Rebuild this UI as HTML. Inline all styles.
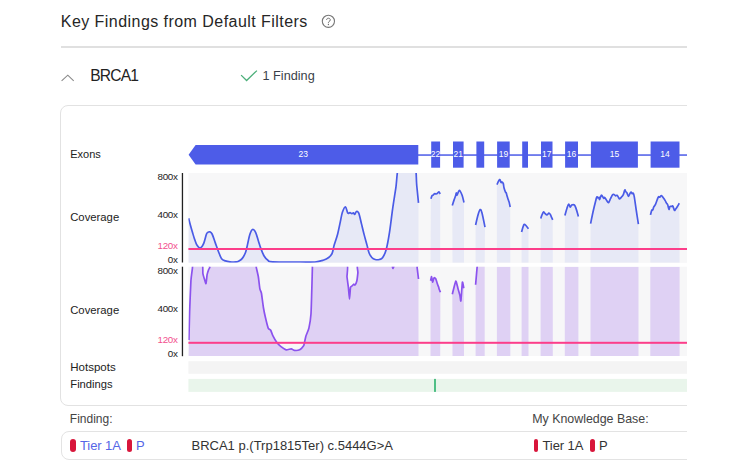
<!DOCTYPE html>
<html><head><meta charset="utf-8"><style>
html,body{margin:0;padding:0;background:#fff;}
body{width:736px;height:475px;overflow:hidden;position:relative;font-family:"Liberation Sans",sans-serif;color:#222;}
.a{position:absolute;white-space:nowrap;line-height:1;}
.ax{letter-spacing:-0.3px;font-size:9.8px !important}
.clip{position:absolute;left:0;top:0;width:687px;height:475px;overflow:hidden;}
</style></head><body>
<div class="clip">
<div class="a" style="left:61px;top:46px;width:700px;height:1.5px;background:#e0e0e0"></div>
<div class="a" style="left:60.3px;top:105px;width:700px;height:301px;border:1.4px solid #e2e2e2;border-radius:8px;box-sizing:border-box"></div>
<div class="a" style="left:61px;top:431px;width:700px;height:28.5px;border:1px solid #e3e3e3;border-radius:8px;box-sizing:border-box"></div>
<svg width="736" height="475" viewBox="0 0 736 475" style="position:absolute;left:0;top:0"><defs><clipPath id="cp1"><rect x="188.4" y="173.0" width="498.6" height="89.80000000000001"/></clipPath><clipPath id="cp2"><rect x="188.4" y="266.7" width="498.6" height="89.30000000000001"/></clipPath></defs><rect x="188.4" y="173.0" width="498.6" height="89.80000000000001" fill="#f7f7f8"/><rect x="188.4" y="266.7" width="498.6" height="89.30000000000001" fill="#f7f7f8"/><g clip-path="url(#cp1)"><path d="M188.4,262.8 L188.6,218.3 C188.92,219.50 189.83,223.08 190.50,225.50 C191.17,227.92 191.93,230.55 192.60,232.80 C193.27,235.05 193.87,237.12 194.50,239.00 C195.13,240.88 195.77,242.80 196.40,244.10 C197.03,245.40 197.67,246.17 198.30,246.80 C198.93,247.43 199.58,247.95 200.20,247.90 C200.82,247.85 201.38,247.33 202.00,246.50 C202.62,245.67 203.15,244.98 203.90,242.90 C204.65,240.82 205.82,235.77 206.50,234.00 C207.18,232.23 207.48,232.67 208.00,232.30 C208.52,231.93 208.92,231.52 209.60,231.80 C210.28,232.08 211.15,232.15 212.10,234.00 C213.05,235.85 214.23,239.95 215.30,242.90 C216.37,245.85 217.45,249.07 218.50,251.70 C219.55,254.33 220.45,257.17 221.60,258.70 C222.75,260.23 224.00,260.38 225.40,260.90 C226.80,261.42 228.23,261.63 230.00,261.80 C231.77,261.97 234.58,262.00 236.00,261.90 C237.42,261.80 237.45,261.78 238.50,261.20 C239.55,260.62 241.12,259.90 242.30,258.40 C243.48,256.90 244.73,254.50 245.60,252.20 C246.47,249.90 246.78,247.60 247.50,244.60 C248.22,241.60 249.05,236.72 249.90,234.20 C250.75,231.68 251.65,229.82 252.60,229.50 C253.55,229.18 254.63,230.40 255.60,232.30 C256.57,234.20 257.53,238.22 258.40,240.90 C259.27,243.58 259.85,245.88 260.80,248.40 C261.75,250.92 262.92,254.02 264.10,256.00 C265.28,257.98 266.47,259.33 267.90,260.30 C269.33,261.27 267.35,261.52 272.70,261.80 C278.05,262.08 292.95,261.97 300.00,262.00 C307.05,262.03 311.13,262.30 315.00,262.00 C318.87,261.70 320.92,260.95 323.20,260.20 C325.48,259.45 327.22,258.63 328.70,257.50 C330.18,256.37 331.18,255.47 332.10,253.40 C333.02,251.33 333.28,248.30 334.20,245.10 C335.12,241.90 336.58,238.07 337.60,234.20 C338.62,230.33 339.50,225.55 340.30,221.90 C341.10,218.25 341.55,214.82 342.40,212.30 C343.25,209.78 344.50,206.68 345.40,206.80 C346.30,206.92 347.05,212.03 347.80,213.00 C348.55,213.97 349.22,212.48 349.90,212.60 C350.58,212.72 351.33,213.67 351.90,213.70 C352.47,213.73 352.83,212.68 353.30,212.80 C353.77,212.92 354.25,214.53 354.70,214.40 C355.15,214.27 355.55,212.47 356.00,212.00 C356.45,211.53 356.90,211.32 357.40,211.60 C357.90,211.88 358.32,211.65 359.00,213.70 C359.68,215.75 360.63,220.37 361.50,223.90 C362.37,227.43 363.28,231.37 364.20,234.90 C365.12,238.43 366.20,242.13 367.00,245.10 C367.80,248.07 368.20,250.63 369.00,252.70 C369.80,254.77 370.77,256.37 371.80,257.50 C372.83,258.63 373.95,259.17 375.20,259.50 C376.45,259.83 378.05,259.83 379.30,259.50 C380.55,259.17 381.53,259.22 382.70,257.50 C383.87,255.78 385.17,253.38 386.30,249.20 C387.43,245.02 388.45,239.07 389.50,232.40 C390.55,225.73 391.55,216.57 392.60,209.20 C393.65,201.83 394.55,196.40 395.80,188.20 C397.05,180.00 397.08,164.70 400.10,160.00 C403.12,155.30 411.12,155.67 413.90,160.00 C416.68,164.33 416.03,178.85 416.80,186.00 C417.57,193.15 418.22,200.08 418.50,202.90 L418.5,262.8 Z" fill="#e7e9f6"/><path d="M430.5,262.8 L430.9,198.8 C431.08,198.30 431.63,196.42 432.00,195.80 C432.37,195.18 432.80,195.35 433.10,195.10 C433.40,194.85 433.50,194.55 433.80,194.30 C434.10,194.05 434.53,193.65 434.90,193.60 C435.27,193.55 435.57,194.05 436.00,194.00 C436.43,193.95 437.00,193.67 437.50,193.30 C438.00,192.93 438.55,191.68 439.00,191.80 C439.45,191.92 440.00,193.63 440.20,194.00 L440.2,262.8 Z" fill="#e7e9f6"/><path d="M452.5,262.8 L452.3,205.4 C452.60,204.48 453.55,201.50 454.10,199.90 C454.65,198.30 455.23,196.97 455.60,195.80 C455.97,194.63 456.07,193.02 456.30,192.90 C456.53,192.78 456.55,195.47 457.00,195.10 C457.45,194.73 458.45,191.32 459.00,190.70 C459.55,190.08 459.77,190.60 460.30,191.40 C460.83,192.20 461.58,193.65 462.20,195.50 C462.82,197.35 463.70,201.33 464.00,202.50 L464,262.8 Z" fill="#e7e9f6"/><path d="M475.6,262.8 L475.6,225 C476.00,223.33 477.23,217.57 478.00,215.00 C478.77,212.43 479.53,209.93 480.20,209.60 C480.87,209.27 481.20,210.08 482.00,213.00 C482.80,215.92 484.50,224.75 485.00,227.10 L484.7,262.8 Z" fill="#e7e9f6"/><path d="M496.9,262.8 L496.9,184.7 C497.35,183.85 498.92,179.97 499.60,179.60 C500.28,179.23 500.60,182.10 501.00,182.50 C501.40,182.90 501.62,181.82 502.00,182.00 C502.38,182.18 502.97,182.65 503.30,183.60 C503.63,184.55 503.63,186.28 504.00,187.70 C504.37,189.12 505.12,191.22 505.50,192.10 C505.88,192.98 506.05,192.38 506.30,193.00 C506.55,193.62 506.68,194.72 507.00,195.80 C507.32,196.88 507.92,198.63 508.20,199.50 C508.48,200.37 508.53,200.52 508.70,201.00 C508.87,201.48 508.95,201.40 509.20,202.40 C509.45,203.40 510.03,206.23 510.20,207.00 L510.3,262.8 Z" fill="#e7e9f6"/><path d="M521.6,262.8 L521.6,232 C521.83,231.17 522.58,228.27 523.00,227.00 C523.42,225.73 523.68,224.73 524.10,224.40 C524.52,224.07 524.77,224.27 525.50,225.00 C526.23,225.73 528.00,228.17 528.50,228.80 L528.5,262.8 Z" fill="#e7e9f6"/><path d="M540.6,262.8 L540.8,218.4 C540.97,217.90 541.35,216.47 541.80,215.40 C542.25,214.33 542.98,212.35 543.50,212.00 C544.02,211.65 544.33,212.80 544.90,213.30 C545.47,213.80 546.23,215.02 546.90,215.00 C547.57,214.98 548.33,213.30 548.90,213.20 C549.47,213.10 549.85,213.70 550.30,214.40 C550.75,215.10 551.20,216.50 551.60,217.40 C552.00,218.30 552.52,219.40 552.70,219.80 L552.8,262.8 Z" fill="#e7e9f6"/><path d="M564.8,262.8 L564.9,215.4 C565.23,214.27 566.28,210.47 566.90,208.60 C567.52,206.73 568.03,204.43 568.60,204.20 C569.17,203.97 569.78,207.07 570.30,207.20 C570.82,207.33 571.02,205.37 571.70,205.00 C572.38,204.63 573.67,204.40 574.40,205.00 C575.13,205.60 575.43,206.70 576.10,208.60 C576.77,210.50 578.02,215.10 578.40,216.40 L578.4,262.8 Z" fill="#e7e9f6"/><path d="M590.5,262.8 L590.6,223.7 C591.00,221.75 592.12,215.95 593.00,212.00 C593.88,208.05 595.25,202.53 595.90,200.00 C596.55,197.47 596.55,197.15 596.90,196.80 C597.25,196.45 597.63,197.80 598.00,197.90 C598.37,198.00 598.83,197.13 599.10,197.40 C599.37,197.67 599.25,199.85 599.60,199.50 C599.95,199.15 600.68,195.75 601.20,195.30 C601.72,194.85 602.27,196.28 602.70,196.80 C603.13,197.32 603.48,198.30 603.80,198.40 C604.12,198.50 604.17,197.13 604.60,197.40 C605.03,197.67 605.75,199.13 606.40,200.00 C607.05,200.87 607.80,202.87 608.50,202.60 C609.20,202.33 609.90,199.72 610.60,198.40 C611.30,197.08 612.08,195.32 612.70,194.70 C613.32,194.08 613.82,194.52 614.30,194.70 C614.78,194.88 615.15,195.70 615.60,195.80 C616.05,195.90 616.52,195.03 617.00,195.30 C617.48,195.57 618.07,196.80 618.50,197.40 C618.93,198.00 619.07,199.00 619.60,198.90 C620.13,198.80 621.08,197.50 621.70,196.80 C622.32,196.10 622.78,195.83 623.30,194.70 C623.82,193.57 624.40,190.52 624.80,190.00 C625.20,189.48 625.33,191.10 625.70,191.60 C626.07,192.10 626.53,192.22 627.00,193.00 C627.47,193.78 627.98,196.27 628.50,196.30 C629.02,196.33 629.65,193.90 630.10,193.20 C630.55,192.50 630.85,192.02 631.20,192.10 C631.55,192.18 631.85,193.52 632.20,193.70 C632.55,193.88 632.95,192.68 633.30,193.20 C633.65,193.72 633.80,193.92 634.30,196.80 C634.80,199.68 635.62,205.93 636.30,210.50 C636.98,215.07 638.05,221.92 638.40,224.20 L638.5,262.8 Z" fill="#e7e9f6"/><path d="M650.3,262.8 L650.5,214.9 C650.70,214.13 651.32,211.13 651.70,210.30 C652.08,209.47 652.45,210.47 652.80,209.90 C653.15,209.33 653.35,207.82 653.80,206.90 C654.25,205.98 654.93,205.60 655.50,204.40 C656.07,203.20 656.70,200.97 657.20,199.70 C657.70,198.43 658.08,197.22 658.50,196.80 C658.92,196.38 659.22,197.42 659.70,197.20 C660.18,196.98 660.83,195.43 661.40,195.50 C661.97,195.57 662.47,196.75 663.10,197.60 C663.73,198.45 664.63,199.68 665.20,200.60 C665.77,201.52 666.08,202.40 666.50,203.10 C666.92,203.80 667.28,203.75 667.70,204.80 C668.12,205.85 668.63,209.12 669.00,209.40 C669.37,209.68 669.48,206.98 669.90,206.50 C670.32,206.02 671.02,206.57 671.50,206.50 C671.98,206.43 672.30,205.47 672.80,206.10 C673.30,206.73 674.02,209.82 674.50,210.30 C674.98,210.78 675.22,209.63 675.70,209.00 C676.18,208.37 676.80,207.45 677.40,206.50 C678.00,205.55 678.98,203.83 679.30,203.30 L679.6,262.8 Z" fill="#e7e9f6"/><path d="M188.60,218.30 C188.92,219.50 189.83,223.08 190.50,225.50 C191.17,227.92 191.93,230.55 192.60,232.80 C193.27,235.05 193.87,237.12 194.50,239.00 C195.13,240.88 195.77,242.80 196.40,244.10 C197.03,245.40 197.67,246.17 198.30,246.80 C198.93,247.43 199.58,247.95 200.20,247.90 C200.82,247.85 201.38,247.33 202.00,246.50 C202.62,245.67 203.15,244.98 203.90,242.90 C204.65,240.82 205.82,235.77 206.50,234.00 C207.18,232.23 207.48,232.67 208.00,232.30 C208.52,231.93 208.92,231.52 209.60,231.80 C210.28,232.08 211.15,232.15 212.10,234.00 C213.05,235.85 214.23,239.95 215.30,242.90 C216.37,245.85 217.45,249.07 218.50,251.70 C219.55,254.33 220.45,257.17 221.60,258.70 C222.75,260.23 224.00,260.38 225.40,260.90 C226.80,261.42 228.23,261.63 230.00,261.80 C231.77,261.97 234.58,262.00 236.00,261.90 C237.42,261.80 237.45,261.78 238.50,261.20 C239.55,260.62 241.12,259.90 242.30,258.40 C243.48,256.90 244.73,254.50 245.60,252.20 C246.47,249.90 246.78,247.60 247.50,244.60 C248.22,241.60 249.05,236.72 249.90,234.20 C250.75,231.68 251.65,229.82 252.60,229.50 C253.55,229.18 254.63,230.40 255.60,232.30 C256.57,234.20 257.53,238.22 258.40,240.90 C259.27,243.58 259.85,245.88 260.80,248.40 C261.75,250.92 262.92,254.02 264.10,256.00 C265.28,257.98 266.47,259.33 267.90,260.30 C269.33,261.27 267.35,261.52 272.70,261.80 C278.05,262.08 292.95,261.97 300.00,262.00 C307.05,262.03 311.13,262.30 315.00,262.00 C318.87,261.70 320.92,260.95 323.20,260.20 C325.48,259.45 327.22,258.63 328.70,257.50 C330.18,256.37 331.18,255.47 332.10,253.40 C333.02,251.33 333.28,248.30 334.20,245.10 C335.12,241.90 336.58,238.07 337.60,234.20 C338.62,230.33 339.50,225.55 340.30,221.90 C341.10,218.25 341.55,214.82 342.40,212.30 C343.25,209.78 344.50,206.68 345.40,206.80 C346.30,206.92 347.05,212.03 347.80,213.00 C348.55,213.97 349.22,212.48 349.90,212.60 C350.58,212.72 351.33,213.67 351.90,213.70 C352.47,213.73 352.83,212.68 353.30,212.80 C353.77,212.92 354.25,214.53 354.70,214.40 C355.15,214.27 355.55,212.47 356.00,212.00 C356.45,211.53 356.90,211.32 357.40,211.60 C357.90,211.88 358.32,211.65 359.00,213.70 C359.68,215.75 360.63,220.37 361.50,223.90 C362.37,227.43 363.28,231.37 364.20,234.90 C365.12,238.43 366.20,242.13 367.00,245.10 C367.80,248.07 368.20,250.63 369.00,252.70 C369.80,254.77 370.77,256.37 371.80,257.50 C372.83,258.63 373.95,259.17 375.20,259.50 C376.45,259.83 378.05,259.83 379.30,259.50 C380.55,259.17 381.53,259.22 382.70,257.50 C383.87,255.78 385.17,253.38 386.30,249.20 C387.43,245.02 388.45,239.07 389.50,232.40 C390.55,225.73 391.55,216.57 392.60,209.20 C393.65,201.83 394.55,196.40 395.80,188.20 C397.05,180.00 397.08,164.70 400.10,160.00 C403.12,155.30 411.12,155.67 413.90,160.00 C416.68,164.33 416.03,178.85 416.80,186.00 C417.57,193.15 418.22,200.08 418.50,202.90" fill="none" stroke="#4a5be6" stroke-width="1.7" stroke-linejoin="round"/><path d="M430.90,198.80 C431.08,198.30 431.63,196.42 432.00,195.80 C432.37,195.18 432.80,195.35 433.10,195.10 C433.40,194.85 433.50,194.55 433.80,194.30 C434.10,194.05 434.53,193.65 434.90,193.60 C435.27,193.55 435.57,194.05 436.00,194.00 C436.43,193.95 437.00,193.67 437.50,193.30 C438.00,192.93 438.55,191.68 439.00,191.80 C439.45,191.92 440.00,193.63 440.20,194.00" fill="none" stroke="#4a5be6" stroke-width="1.7" stroke-linejoin="round"/><path d="M452.30,205.40 C452.60,204.48 453.55,201.50 454.10,199.90 C454.65,198.30 455.23,196.97 455.60,195.80 C455.97,194.63 456.07,193.02 456.30,192.90 C456.53,192.78 456.55,195.47 457.00,195.10 C457.45,194.73 458.45,191.32 459.00,190.70 C459.55,190.08 459.77,190.60 460.30,191.40 C460.83,192.20 461.58,193.65 462.20,195.50 C462.82,197.35 463.70,201.33 464.00,202.50" fill="none" stroke="#4a5be6" stroke-width="1.7" stroke-linejoin="round"/><path d="M475.60,225.00 C476.00,223.33 477.23,217.57 478.00,215.00 C478.77,212.43 479.53,209.93 480.20,209.60 C480.87,209.27 481.20,210.08 482.00,213.00 C482.80,215.92 484.50,224.75 485.00,227.10" fill="none" stroke="#4a5be6" stroke-width="1.7" stroke-linejoin="round"/><path d="M496.90,184.70 C497.35,183.85 498.92,179.97 499.60,179.60 C500.28,179.23 500.60,182.10 501.00,182.50 C501.40,182.90 501.62,181.82 502.00,182.00 C502.38,182.18 502.97,182.65 503.30,183.60 C503.63,184.55 503.63,186.28 504.00,187.70 C504.37,189.12 505.12,191.22 505.50,192.10 C505.88,192.98 506.05,192.38 506.30,193.00 C506.55,193.62 506.68,194.72 507.00,195.80 C507.32,196.88 507.92,198.63 508.20,199.50 C508.48,200.37 508.53,200.52 508.70,201.00 C508.87,201.48 508.95,201.40 509.20,202.40 C509.45,203.40 510.03,206.23 510.20,207.00" fill="none" stroke="#4a5be6" stroke-width="1.7" stroke-linejoin="round"/><path d="M521.60,232.00 C521.83,231.17 522.58,228.27 523.00,227.00 C523.42,225.73 523.68,224.73 524.10,224.40 C524.52,224.07 524.77,224.27 525.50,225.00 C526.23,225.73 528.00,228.17 528.50,228.80" fill="none" stroke="#4a5be6" stroke-width="1.7" stroke-linejoin="round"/><path d="M540.80,218.40 C540.97,217.90 541.35,216.47 541.80,215.40 C542.25,214.33 542.98,212.35 543.50,212.00 C544.02,211.65 544.33,212.80 544.90,213.30 C545.47,213.80 546.23,215.02 546.90,215.00 C547.57,214.98 548.33,213.30 548.90,213.20 C549.47,213.10 549.85,213.70 550.30,214.40 C550.75,215.10 551.20,216.50 551.60,217.40 C552.00,218.30 552.52,219.40 552.70,219.80" fill="none" stroke="#4a5be6" stroke-width="1.7" stroke-linejoin="round"/><path d="M564.90,215.40 C565.23,214.27 566.28,210.47 566.90,208.60 C567.52,206.73 568.03,204.43 568.60,204.20 C569.17,203.97 569.78,207.07 570.30,207.20 C570.82,207.33 571.02,205.37 571.70,205.00 C572.38,204.63 573.67,204.40 574.40,205.00 C575.13,205.60 575.43,206.70 576.10,208.60 C576.77,210.50 578.02,215.10 578.40,216.40" fill="none" stroke="#4a5be6" stroke-width="1.7" stroke-linejoin="round"/><path d="M590.60,223.70 C591.00,221.75 592.12,215.95 593.00,212.00 C593.88,208.05 595.25,202.53 595.90,200.00 C596.55,197.47 596.55,197.15 596.90,196.80 C597.25,196.45 597.63,197.80 598.00,197.90 C598.37,198.00 598.83,197.13 599.10,197.40 C599.37,197.67 599.25,199.85 599.60,199.50 C599.95,199.15 600.68,195.75 601.20,195.30 C601.72,194.85 602.27,196.28 602.70,196.80 C603.13,197.32 603.48,198.30 603.80,198.40 C604.12,198.50 604.17,197.13 604.60,197.40 C605.03,197.67 605.75,199.13 606.40,200.00 C607.05,200.87 607.80,202.87 608.50,202.60 C609.20,202.33 609.90,199.72 610.60,198.40 C611.30,197.08 612.08,195.32 612.70,194.70 C613.32,194.08 613.82,194.52 614.30,194.70 C614.78,194.88 615.15,195.70 615.60,195.80 C616.05,195.90 616.52,195.03 617.00,195.30 C617.48,195.57 618.07,196.80 618.50,197.40 C618.93,198.00 619.07,199.00 619.60,198.90 C620.13,198.80 621.08,197.50 621.70,196.80 C622.32,196.10 622.78,195.83 623.30,194.70 C623.82,193.57 624.40,190.52 624.80,190.00 C625.20,189.48 625.33,191.10 625.70,191.60 C626.07,192.10 626.53,192.22 627.00,193.00 C627.47,193.78 627.98,196.27 628.50,196.30 C629.02,196.33 629.65,193.90 630.10,193.20 C630.55,192.50 630.85,192.02 631.20,192.10 C631.55,192.18 631.85,193.52 632.20,193.70 C632.55,193.88 632.95,192.68 633.30,193.20 C633.65,193.72 633.80,193.92 634.30,196.80 C634.80,199.68 635.62,205.93 636.30,210.50 C636.98,215.07 638.05,221.92 638.40,224.20" fill="none" stroke="#4a5be6" stroke-width="1.7" stroke-linejoin="round"/><path d="M650.50,214.90 C650.70,214.13 651.32,211.13 651.70,210.30 C652.08,209.47 652.45,210.47 652.80,209.90 C653.15,209.33 653.35,207.82 653.80,206.90 C654.25,205.98 654.93,205.60 655.50,204.40 C656.07,203.20 656.70,200.97 657.20,199.70 C657.70,198.43 658.08,197.22 658.50,196.80 C658.92,196.38 659.22,197.42 659.70,197.20 C660.18,196.98 660.83,195.43 661.40,195.50 C661.97,195.57 662.47,196.75 663.10,197.60 C663.73,198.45 664.63,199.68 665.20,200.60 C665.77,201.52 666.08,202.40 666.50,203.10 C666.92,203.80 667.28,203.75 667.70,204.80 C668.12,205.85 668.63,209.12 669.00,209.40 C669.37,209.68 669.48,206.98 669.90,206.50 C670.32,206.02 671.02,206.57 671.50,206.50 C671.98,206.43 672.30,205.47 672.80,206.10 C673.30,206.73 674.02,209.82 674.50,210.30 C674.98,210.78 675.22,209.63 675.70,209.00 C676.18,208.37 676.80,207.45 677.40,206.50 C678.00,205.55 678.98,203.83 679.30,203.30" fill="none" stroke="#4a5be6" stroke-width="1.7" stroke-linejoin="round"/></g><g clip-path="url(#cp2)"><path d="M188.4,356.0 L188.9,340 C188.96,337.72 189.43,317.52 189.60,312.60 C189.77,307.68 190.67,284.68 190.90,281.00 C191.13,277.32 192.21,269.98 192.40,268.40 C192.59,266.82 192.38,262.53 193.20,262.00 C194.02,261.47 201.39,261.02 202.20,262.00 C203.01,262.98 202.72,272.28 202.90,273.70 C203.08,275.12 204.14,278.18 204.40,279.00 C204.66,279.82 205.78,283.96 206.00,283.60 C206.22,283.24 206.89,275.83 207.10,274.70 C207.31,273.57 208.28,270.61 208.50,270.00 C208.72,269.39 209.65,268.07 209.80,267.40 C209.95,266.73 206.48,262.45 210.30,262.00 C214.12,261.55 251.78,261.57 255.60,262.00 C259.43,262.43 255.97,265.99 256.20,267.20 C256.43,268.41 257.99,274.69 258.30,276.50 C258.61,278.31 259.64,287.52 259.90,288.90 C260.16,290.27 261.11,291.45 261.40,293.00 C261.69,294.55 263.06,305.43 263.40,307.50 C263.74,309.57 265.10,316.08 265.50,317.80 C265.90,319.52 267.77,327.07 268.20,328.10 C268.63,329.13 270.32,329.60 270.70,330.20 C271.07,330.80 272.18,334.27 272.70,335.30 C273.22,336.33 276.21,341.65 276.90,342.60 C277.59,343.55 280.23,346.10 281.00,346.70 C281.77,347.30 285.34,349.62 286.20,349.80 C287.06,349.98 290.62,348.75 291.30,348.80 C291.98,348.85 293.71,350.32 294.40,350.40 C295.09,350.48 298.83,350.19 299.60,349.80 C300.38,349.41 303.18,346.82 303.70,345.70 C304.22,344.58 305.37,337.87 305.80,336.40 C306.23,334.93 308.47,329.99 308.90,328.10 C309.33,326.21 310.74,317.48 311.00,313.70 C311.26,309.92 311.88,286.57 312.00,282.70 C312.12,278.82 312.36,268.93 312.40,267.20 C312.44,265.47 309.68,262.43 312.50,262.00 C315.32,261.57 343.32,260.77 346.20,262.00 C349.07,263.23 346.82,274.68 347.00,276.80 C347.18,278.92 348.19,285.55 348.40,287.40 C348.61,289.25 349.32,299.00 349.50,299.00 C349.68,299.00 350.29,288.48 350.50,287.40 C350.71,286.32 351.73,286.27 352.00,286.00 C352.27,285.73 353.45,284.28 353.70,284.20 C353.95,284.12 354.74,285.27 355.00,285.00 C355.26,284.73 356.56,282.03 356.80,281.00 C357.04,279.97 357.75,274.18 357.90,272.60 C358.05,271.02 355.73,262.63 358.60,262.00 C361.47,261.37 389.44,264.46 392.30,265.00 C395.16,265.54 392.80,268.50 392.90,268.50 C393.00,268.50 391.51,265.29 393.50,265.00 C395.49,264.71 414.83,264.80 416.80,265.00 C418.77,265.20 416.96,266.23 417.10,267.40 C417.24,268.57 418.38,278.03 418.50,279.00 L418.5,356.0 Z" fill="#dfd1f4"/><path d="M430.5,356.0 L430.6,280.7 C430.68,280.36 431.43,276.48 431.60,276.60 C431.77,276.73 432.39,282.11 432.60,282.20 C432.81,282.29 433.84,277.99 434.10,277.70 C434.36,277.41 435.40,278.11 435.70,278.70 C436.00,279.29 437.45,284.08 437.70,284.80 C437.95,285.52 438.57,286.93 438.70,287.30 C438.82,287.68 439.06,288.88 439.20,289.30 C439.34,289.72 440.30,292.05 440.40,292.30 L440.2,356.0 Z" fill="#dfd1f4"/><path d="M452.5,356.0 L452.3,294.3 C452.59,293.21 455.33,281.71 455.80,281.20 C456.27,280.69 457.56,287.02 457.90,288.20 C458.24,289.38 459.65,294.24 459.90,295.30 C460.15,296.36 460.69,301.99 460.90,300.90 C461.11,299.81 462.16,283.26 462.40,282.20 C462.64,281.14 463.68,287.70 463.80,288.20 L464,356.0 Z" fill="#dfd1f4"/><path d="M475.6,356.0 L475.6,284.8 C475.74,283.15 477.14,266.90 477.30,265.00 C477.46,263.10 476.88,262.25 477.50,262.00 C478.12,261.75 484.10,262.00 484.70,262.00 L484.7,356.0 Z" fill="#dfd1f4"/><rect x="496.9" y="266.7" width="13.4" height="89.3" fill="#dfd1f4"/><rect x="521.6" y="266.7" width="6.9" height="89.3" fill="#dfd1f4"/><rect x="540.6" y="266.7" width="12.2" height="89.3" fill="#dfd1f4"/><rect x="564.8" y="266.7" width="13.6" height="89.3" fill="#dfd1f4"/><rect x="590.5" y="266.7" width="48.0" height="89.3" fill="#dfd1f4"/><rect x="650.3" y="266.7" width="29.3" height="89.3" fill="#dfd1f4"/><path d="M188.90,340.00 C188.96,337.72 189.43,317.52 189.60,312.60 C189.77,307.68 190.67,284.68 190.90,281.00 C191.13,277.32 192.21,269.98 192.40,268.40 C192.59,266.82 192.38,262.53 193.20,262.00 C194.02,261.47 201.39,261.02 202.20,262.00 C203.01,262.98 202.72,272.28 202.90,273.70 C203.08,275.12 204.14,278.18 204.40,279.00 C204.66,279.82 205.78,283.96 206.00,283.60 C206.22,283.24 206.89,275.83 207.10,274.70 C207.31,273.57 208.28,270.61 208.50,270.00 C208.72,269.39 209.65,268.07 209.80,267.40 C209.95,266.73 206.48,262.45 210.30,262.00 C214.12,261.55 251.78,261.57 255.60,262.00 C259.43,262.43 255.97,265.99 256.20,267.20 C256.43,268.41 257.99,274.69 258.30,276.50 C258.61,278.31 259.64,287.52 259.90,288.90 C260.16,290.27 261.11,291.45 261.40,293.00 C261.69,294.55 263.06,305.43 263.40,307.50 C263.74,309.57 265.10,316.08 265.50,317.80 C265.90,319.52 267.77,327.07 268.20,328.10 C268.63,329.13 270.32,329.60 270.70,330.20 C271.07,330.80 272.18,334.27 272.70,335.30 C273.22,336.33 276.21,341.65 276.90,342.60 C277.59,343.55 280.23,346.10 281.00,346.70 C281.77,347.30 285.34,349.62 286.20,349.80 C287.06,349.98 290.62,348.75 291.30,348.80 C291.98,348.85 293.71,350.32 294.40,350.40 C295.09,350.48 298.83,350.19 299.60,349.80 C300.38,349.41 303.18,346.82 303.70,345.70 C304.22,344.58 305.37,337.87 305.80,336.40 C306.23,334.93 308.47,329.99 308.90,328.10 C309.33,326.21 310.74,317.48 311.00,313.70 C311.26,309.92 311.88,286.57 312.00,282.70 C312.12,278.82 312.36,268.93 312.40,267.20 C312.44,265.47 309.68,262.43 312.50,262.00 C315.32,261.57 343.32,260.77 346.20,262.00 C349.07,263.23 346.82,274.68 347.00,276.80 C347.18,278.92 348.19,285.55 348.40,287.40 C348.61,289.25 349.32,299.00 349.50,299.00 C349.68,299.00 350.29,288.48 350.50,287.40 C350.71,286.32 351.73,286.27 352.00,286.00 C352.27,285.73 353.45,284.28 353.70,284.20 C353.95,284.12 354.74,285.27 355.00,285.00 C355.26,284.73 356.56,282.03 356.80,281.00 C357.04,279.97 357.75,274.18 357.90,272.60 C358.05,271.02 355.73,262.63 358.60,262.00 C361.47,261.37 389.44,264.46 392.30,265.00 C395.16,265.54 392.80,268.50 392.90,268.50 C393.00,268.50 391.51,265.29 393.50,265.00 C395.49,264.71 414.83,264.80 416.80,265.00 C418.77,265.20 416.96,266.23 417.10,267.40 C417.24,268.57 418.38,278.03 418.50,279.00" fill="none" stroke="#8b52ee" stroke-width="1.7" stroke-linejoin="round"/><path d="M430.60,280.70 C430.68,280.36 431.43,276.48 431.60,276.60 C431.77,276.73 432.39,282.11 432.60,282.20 C432.81,282.29 433.84,277.99 434.10,277.70 C434.36,277.41 435.40,278.11 435.70,278.70 C436.00,279.29 437.45,284.08 437.70,284.80 C437.95,285.52 438.57,286.93 438.70,287.30 C438.82,287.68 439.06,288.88 439.20,289.30 C439.34,289.72 440.30,292.05 440.40,292.30" fill="none" stroke="#8b52ee" stroke-width="1.7" stroke-linejoin="round"/><path d="M452.30,294.30 C452.59,293.21 455.33,281.71 455.80,281.20 C456.27,280.69 457.56,287.02 457.90,288.20 C458.24,289.38 459.65,294.24 459.90,295.30 C460.15,296.36 460.69,301.99 460.90,300.90 C461.11,299.81 462.16,283.26 462.40,282.20 C462.64,281.14 463.68,287.70 463.80,288.20" fill="none" stroke="#8b52ee" stroke-width="1.7" stroke-linejoin="round"/><path d="M475.60,284.80 C475.74,283.15 477.14,266.90 477.30,265.00 C477.46,263.10 476.88,262.25 477.50,262.00 C478.12,261.75 484.10,262.00 484.70,262.00" fill="none" stroke="#8b52ee" stroke-width="1.7" stroke-linejoin="round"/></g><rect x="188.4" y="248" width="498.6" height="2" fill="#fc3e8a"/><rect x="188.4" y="341.8" width="498.6" height="2" fill="#fc3e8a"/><rect x="181.8" y="173" width="1.3" height="89.5" fill="#222"/><rect x="181.8" y="266.7" width="1.3" height="89.5" fill="#222"/><rect x="188.4" y="361.2" width="498.6" height="12.6" fill="#f4f4f4"/><rect x="188.4" y="378.9" width="498.6" height="13" fill="#e9f5eb"/><rect x="434" y="378.9" width="2" height="13" fill="#4fbf85"/><rect x="418" y="154.3" width="269" height="1.5" fill="#4d5ce8"/><polygon points="188.6,154.8 195.6,145 418.3,145 418.3,164.5 195.6,164.5" fill="#4d5ce8"/><rect x="431.2" y="141.5" width="8.9" height="26.2" fill="#4d5ce8"/><text x="435.6" y="157.2" fill="#fff" font-size="8.5" text-anchor="middle" font-family="Liberation Sans">22</text><rect x="453" y="141.5" width="10.6" height="26.2" fill="#4d5ce8"/><text x="458.3" y="157.2" fill="#fff" font-size="8.5" text-anchor="middle" font-family="Liberation Sans">21</text><rect x="476.4" y="141.5" width="7.8" height="26.2" fill="#4d5ce8"/><rect x="497.1" y="141.5" width="12.6" height="26.2" fill="#4d5ce8"/><text x="503.4" y="157.2" fill="#fff" font-size="8.5" text-anchor="middle" font-family="Liberation Sans">19</text><rect x="522.2" y="141.5" width="5.8" height="26.2" fill="#4d5ce8"/><rect x="541" y="141.5" width="11.5" height="26.2" fill="#4d5ce8"/><text x="546.8" y="157.2" fill="#fff" font-size="8.5" text-anchor="middle" font-family="Liberation Sans">17</text><rect x="565.1" y="141.5" width="12.9" height="26.2" fill="#4d5ce8"/><text x="571.5" y="157.2" fill="#fff" font-size="8.5" text-anchor="middle" font-family="Liberation Sans">16</text><rect x="590.9" y="141.5" width="47.0" height="26.2" fill="#4d5ce8"/><text x="614.4" y="157.2" fill="#fff" font-size="8.5" text-anchor="middle" font-family="Liberation Sans">15</text><rect x="650.6" y="141.5" width="28.9" height="26.2" fill="#4d5ce8"/><text x="665.0" y="157.2" fill="#fff" font-size="8.5" text-anchor="middle" font-family="Liberation Sans">14</text><text x="303.3" y="157.1" fill="#fff" font-size="8.5" text-anchor="middle" font-family="Liberation Sans">23</text></svg>
</div>
<div class="a" style="left:60.8px;top:14.2px;font-size:16px;letter-spacing:0.45px;color:#262626">Key Findings from Default Filters</div>
<svg class="a" style="left:321px;top:14px" width="15" height="15" viewBox="0 0 15 15"><circle cx="7.4" cy="7.3" r="6.1" fill="none" stroke="#777" stroke-width="1.1"/><path d="M5.6,6 C5.6,4.8 6.4,4.2 7.4,4.2 C8.5,4.2 9.3,4.9 9.3,5.9 C9.3,6.9 8.5,7.2 7.9,7.7 C7.5,8.1 7.4,8.4 7.4,9.1" fill="none" stroke="#6a6a6a" stroke-width="0.95"/><circle cx="7.4" cy="10.5" r="0.65" fill="#6a6a6a"/></svg>
<svg class="a" style="left:60px;top:73px" width="16" height="10" viewBox="0 0 16 10"><polyline points="1.6,7.9 7.8,2.2 13.7,7.9" fill="none" stroke="#8a8a8a" stroke-width="1.1"/></svg>
<div class="a" style="left:90.2px;top:67.7px;font-size:15.6px;letter-spacing:-0.8px;color:#222">BRCA1</div>
<svg class="a" style="left:240px;top:69px" width="18" height="13" viewBox="0 0 18 13"><polyline points="1.1,6.1 6.6,11.5 16.9,1.6" fill="none" stroke="#4caf7a" stroke-width="1.3"/></svg>
<div class="a" style="left:262.5px;top:69.8px;font-size:12.7px;color:#3a3f4a">1 Finding</div>
<div class="a" style="left:70.2px;top:149px;font-size:11px">Exons</div>
<div class="a" style="left:70.2px;top:211.6px;font-size:11.3px">Coverage</div>
<div class="a" style="left:70.2px;top:305.2px;font-size:11.3px">Coverage</div>
<div class="a" style="left:70.3px;top:362px;font-size:11.5px">Hotspots</div>
<div class="a" style="left:70.3px;top:379.4px;font-size:11.2px">Findings</div>
<div class="a ax" style="right:558.4px;top:172px;font-size:10px;text-align:right">800x</div>
<div class="a ax" style="right:558.4px;top:210px;font-size:10px">400x</div>
<div class="a ax" style="right:558.4px;top:241.3px;font-size:10px;color:#f2508e">120x</div>
<div class="a ax" style="right:558.4px;top:255px;font-size:10px">0x</div>
<div class="a ax" style="right:558.4px;top:266.2px;font-size:10px">800x</div>
<div class="a ax" style="right:558.4px;top:304px;font-size:10px">400x</div>
<div class="a ax" style="right:558.4px;top:335.2px;font-size:10px;color:#f2508e">120x</div>
<div class="a ax" style="right:558.4px;top:348.6px;font-size:10px">0x</div>
<div class="a" style="left:69.8px;top:413px;font-size:12px;color:#444">Finding:</div>
<div class="a" style="left:532.2px;top:413.3px;font-size:12.4px;color:#444">My Knowledge Base:</div>
<div class="a" style="left:70.2px;top:438.8px;width:5.7px;height:13.4px;border-radius:3px;background:#d8163b"></div>
<div class="a" style="left:80px;top:438.5px;font-size:13px;color:#5566e6;letter-spacing:-0.1px">Tier 1A</div>
<div class="a" style="left:127px;top:438.8px;width:5.2px;height:13.4px;border-radius:3px;background:#d8163b"></div>
<div class="a" style="left:136px;top:438.5px;font-size:13px;color:#5566e6">P</div>
<div class="a" style="left:191.5px;top:438.5px;font-size:13px;color:#333">BRCA1 p.(Trp1815Ter) c.5444G&gt;A</div>
<div class="a" style="left:533.5px;top:439px;width:4.8px;height:12.8px;border-radius:3px;background:#d8163b"></div>
<div class="a" style="left:542.5px;top:438.5px;font-size:13px;color:#333;letter-spacing:-0.1px">Tier 1A</div>
<div class="a" style="left:590.4px;top:439px;width:4.4px;height:12.8px;border-radius:3px;background:#d8163b"></div>
<div class="a" style="left:599px;top:438.5px;font-size:13px;color:#333">P</div>
</body></html>
